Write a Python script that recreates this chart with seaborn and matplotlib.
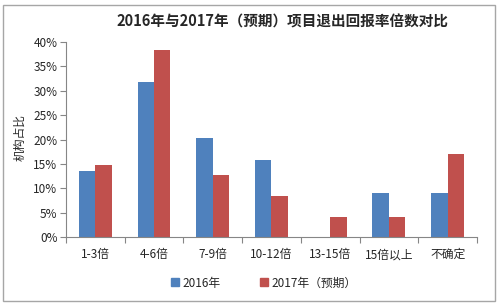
#Grouped bar chart: 2016 vs 2017 exit return multiples

import matplotlib.pyplot as plt
import matplotlib.ticker as mtick
import pandas as pd
import seaborn as sb

#Data
categories = ['1-3倍', '4-6倍', '7-9倍', '10-12倍', '13-15倍', '15倍以上', '不确定']
series_names = ['2016年', '2017年（预期）']
share_2016 = [0.136, 0.319, 0.204, 0.159, 0.0, 0.090, 0.090]
share_2017 = [0.148, 0.384, 0.128, 0.085, 0.042, 0.042, 0.170]

df = pd.DataFrame({
    'cat': categories * 2,
    'series': [series_names[0]] * len(categories) + [series_names[1]] * len(categories),
    'share': share_2016 + share_2017,
})

sb.set_style('white')
plt.rcParams['font.family'] = ['Noto Sans CJK SC', 'DejaVu Sans']

fig = plt.figure(figsize = (4.99, 3.05), dpi = 100)
ax = fig.add_axes([0.132, 0.223, 0.824, 0.639])

sb.barplot(data = df, x = 'cat', y = 'share', hue = 'series', order = categories,
           hue_order = series_names, palette = ['#4F81BD', '#C0504D'],
           width = 0.56, gap = 0, saturation = 1, linewidth = 0, ax = ax, legend = False)

ax.set_ylim(0, 0.40)
ax.set_xlim(-0.5, len(categories) - 0.5)
ax.yaxis.set_major_locator(mtick.MultipleLocator(0.05))
ax.yaxis.set_major_formatter(mtick.PercentFormatter(1.0, decimals = 0))
ax.set_xlabel('')
ax.set_ylabel('')

#Excel-like ticks: y ticks outward, x ticks at category boundaries
ax.tick_params(axis = 'y', direction = 'out', length = 4, width = 0.8, color = '#868686',
               labelsize = 8.5, pad = 2, left = True)
ax.tick_params(axis = 'x', which = 'major', length = 0, labelsize = 8.5, pad = 8)
ax.set_xticks([i - 0.5 for i in range(len(categories) + 1)], minor = True)
ax.tick_params(axis = 'x', which = 'minor', direction = 'out', length = 4, width = 0.8,
               color = '#868686', bottom = True)
for s in ['top', 'right']:
    ax.spines[s].set_visible(False)
for s in ['left', 'bottom']:
    ax.spines[s].set_color('#868686')
    ax.spines[s].set_linewidth(0.8)

fig.text(282 / 499, 1 - 22 / 305, '2016年与2017年（预期）项目退出回报率倍数对比',
         ha = 'center', va = 'center', fontsize = 10.5, fontweight = 'bold')
fig.text(20 / 499, 1 - 138 / 305, '机构占比', rotation = 90, ha = 'center', va = 'center',
         fontsize = 8.5)

#Legend
handles = [plt.Line2D([], [], marker = 's', linestyle = '', markersize = 6, color = c)
           for c in ['#4F81BD', '#C0504D']]
fig.legend(handles, series_names, loc = 'center', bbox_to_anchor = (263 / 499, 1 - 283 / 305),
           ncol = 2, frameon = False, fontsize = 8.5, handletextpad = 0.1, columnspacing = 3.2,
           handlelength = 1)

#Outer chart border
fig.patches.append(plt.Rectangle((3 / 499, 4 / 305), 492 / 499, 296 / 305, fill = False,
                                 edgecolor = '#A6A6A6', linewidth = 1,
                                 transform = fig.transFigure))

fig.savefig('out.png', dpi = 100)
